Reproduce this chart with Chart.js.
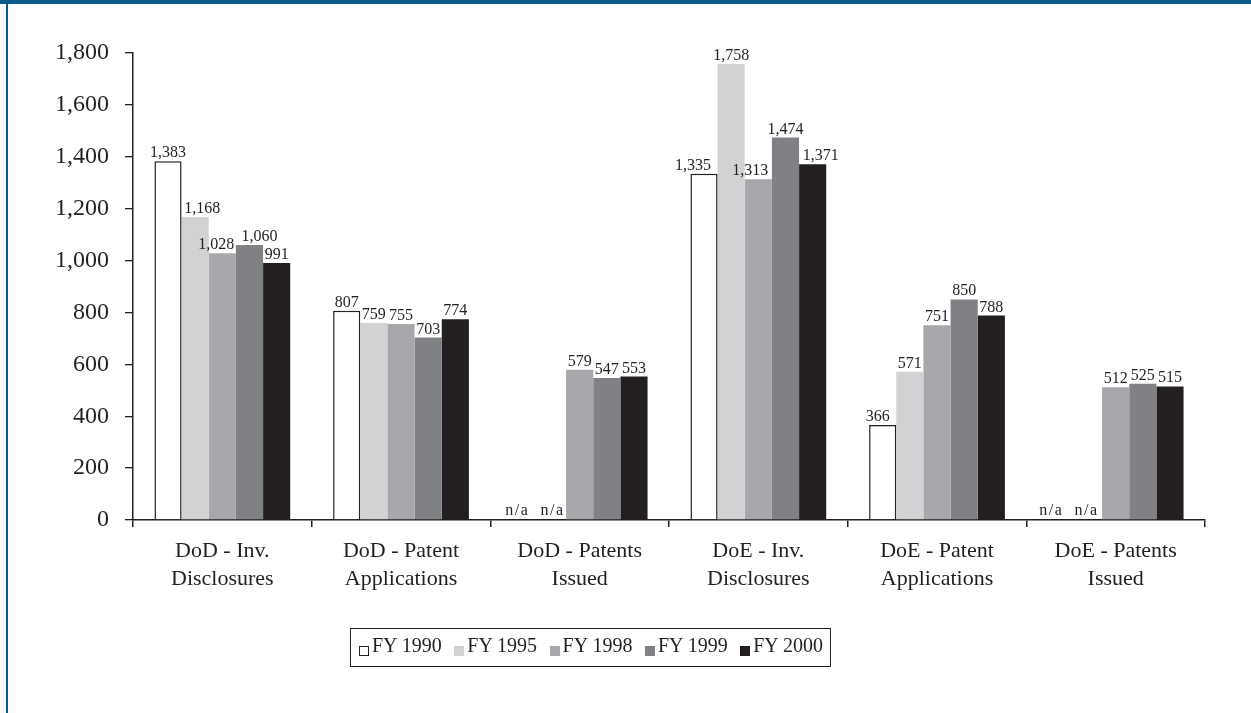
<!DOCTYPE html>
<html>
<head>
<meta charset="utf-8">
<script src="https://cdn.jsdelivr.net/npm/chart.js@4.4.1/dist/chart.umd.min.js"></script>
<style>
  body { margin: 0; background: #fff; }
  #wrap { position: relative; width: 1251px; height: 713px; overflow: hidden; background: #fff; }
  #topbar { position: absolute; left: 0; top: 0; width: 1251px; height: 4px; background: #0b5b8d; }
  #leftline { position: absolute; left: 6px; top: 0; width: 1.5px; height: 713px; background: #0b5b8d; }
  #chart { position: absolute; left: 0; top: 0; }
  #legend {
    position: absolute; left: 350px; top: 628px; width: 479px; height: 37px;
    border: 1.5px solid #231f20; font-family: "Liberation Serif", serif; font-size: 20px; color: #231f20;
  }
  .item { position: absolute; top: 0; height: 37px; white-space: nowrap; }
  .swatch { position: absolute; left: 0; top: 17px; width: 10px; height: 10px; box-sizing: border-box; }
  .txt { position: absolute; left: 13px; top: 5px; line-height: 22px; }
</style>
</head>
<body>
<div id="wrap">
  <canvas id="chart" width="1251" height="713"></canvas>
  <div id="topbar"></div>
  <div id="leftline"></div>
  <div id="legend"></div>
</div>
<script>
// categories (two-line axis labels)
const categories = [
  ['DoD - Inv.', 'Disclosures'],
  ['DoD - Patent', 'Applications'],
  ['DoD - Patents', 'Issued'],
  ['DoE - Inv.', 'Disclosures'],
  ['DoE - Patent', 'Applications'],
  ['DoE - Patents', 'Issued']
];

const seriesNames = ['FY 1990', 'FY 1995', 'FY 1998', 'FY 1999', 'FY 2000'];

// null = n/a
const fy1990 = [1383, 807, null, 1335, 366, null];
const fy1995 = [1168, 759, null, 1758, 571, null];
const fy1998 = [1028, 755, 579, 1313, 751, 512];
const fy1999 = [1060, 703, 547, 1474, 850, 525];
const fy2000 = [991, 774, 553, 1371, 788, 515];

const seriesColors = ['#ffffff', '#d1d2d4', '#a7a8ab', '#808184', '#231f20'];

// horizontal nudges for labels that were moved apart in the original
const labelNudge = {
  '1,0': 7, '2,0': -6, '3,0': 10,
  '0,3': -11, '2,3': -8, '4,3': 8,
  '0,4': -5,
  '0,2': -8, '1,2': 0, '0,5': -10, '1,5': -2
};

const ink = '#231f20';
const serif = '"Liberation Serif", "Times New Roman", serif';

const valueLabels = {
  id: 'valueLabels',
  afterDatasetsDraw(chart) {
    const ctx = chart.ctx;
    const y0 = chart.scales.y.getPixelForValue(0);
    ctx.save();
    ctx.font = '16px ' + serif;
    ctx.fillStyle = ink;
    ctx.textAlign = 'center';
    ctx.textBaseline = 'alphabetic';
    chart.data.datasets.forEach((ds, di) => {
      chart.getDatasetMeta(di).data.forEach((bar, i) => {
        const v = ds.data[i];
        const dx = labelNudge[di + ',' + i] || 0;
        if (v === null) {
          ctx.letterSpacing = '1.5px';
          ctx.fillText('n/a', bar.x + dx, y0 - 5);
          ctx.letterSpacing = '0px';
        } else {
          ctx.fillText(v.toLocaleString('en-US'), bar.x + dx, bar.y - 4);
        }
      });
    });
    ctx.restore();
  }
};

const allSeries = [fy1990, fy1995, fy1998, fy1999, fy2000];

const chart = new Chart(document.getElementById('chart').getContext('2d'), {
  type: 'bar',
  data: {
    labels: categories,
    datasets: allSeries.map((vals, k) => ({
      label: seriesNames[k],
      data: vals,
      backgroundColor: seriesColors[k],
      borderColor: ink,
      borderWidth: k === 0 ? 1.5 : 0,
      categoryPercentage: 0.76,
      barPercentage: 1.0
    }))
  },
  options: {
    responsive: false,
    animation: false,
    layout: { padding: { left: 0, right: 46, top: 53, bottom: 0 } },
    plugins: {
      legend: { display: false },
      tooltip: { enabled: false }
    },
    scales: {
      x: {
        afterFit: (scale) => { scale.height = 193; },
        border: { color: ink, width: 1.5 },
        grid: { drawOnChartArea: false, color: ink, lineWidth: 1.5, tickLength: 7, offset: true },
        ticks: {
          color: ink,
          font: { family: serif, size: 22, lineHeight: 1.24 },
          padding: 11,
          maxRotation: 0,
          autoSkip: false
        }
      },
      y: {
        min: 0,
        max: 1800,
        afterFit: (scale) => { scale.width = 133; },
        border: { color: ink, width: 1.5 },
        grid: { drawOnChartArea: false, color: ink, lineWidth: 1.3, tickLength: 8 },
        ticks: {
          stepSize: 100,
          color: ink,
          padding: 16,
          font: { family: serif, size: 24 },
          callback: (v) => (v % 200 === 0 ? v.toLocaleString('en-US') : '')
        }
      }
    }
  },
  plugins: [valueLabels]
});

// legend box built from the chart's datasets
const legend = document.getElementById('legend');
chart.data.datasets.forEach((ds, k) => {
  const item = document.createElement('div');
  item.className = 'item';
  item.style.left = (8 + k * 95.3) + 'px';
  const sw = document.createElement('div');
  sw.className = 'swatch';
  sw.style.background = ds.backgroundColor;
  if (k === 0) sw.style.border = '1.5px solid ' + ink;
  const tx = document.createElement('div');
  tx.className = 'txt';
  tx.textContent = ds.label;
  item.appendChild(sw);
  item.appendChild(tx);
  legend.appendChild(item);
});
</script>
</body>
</html>
